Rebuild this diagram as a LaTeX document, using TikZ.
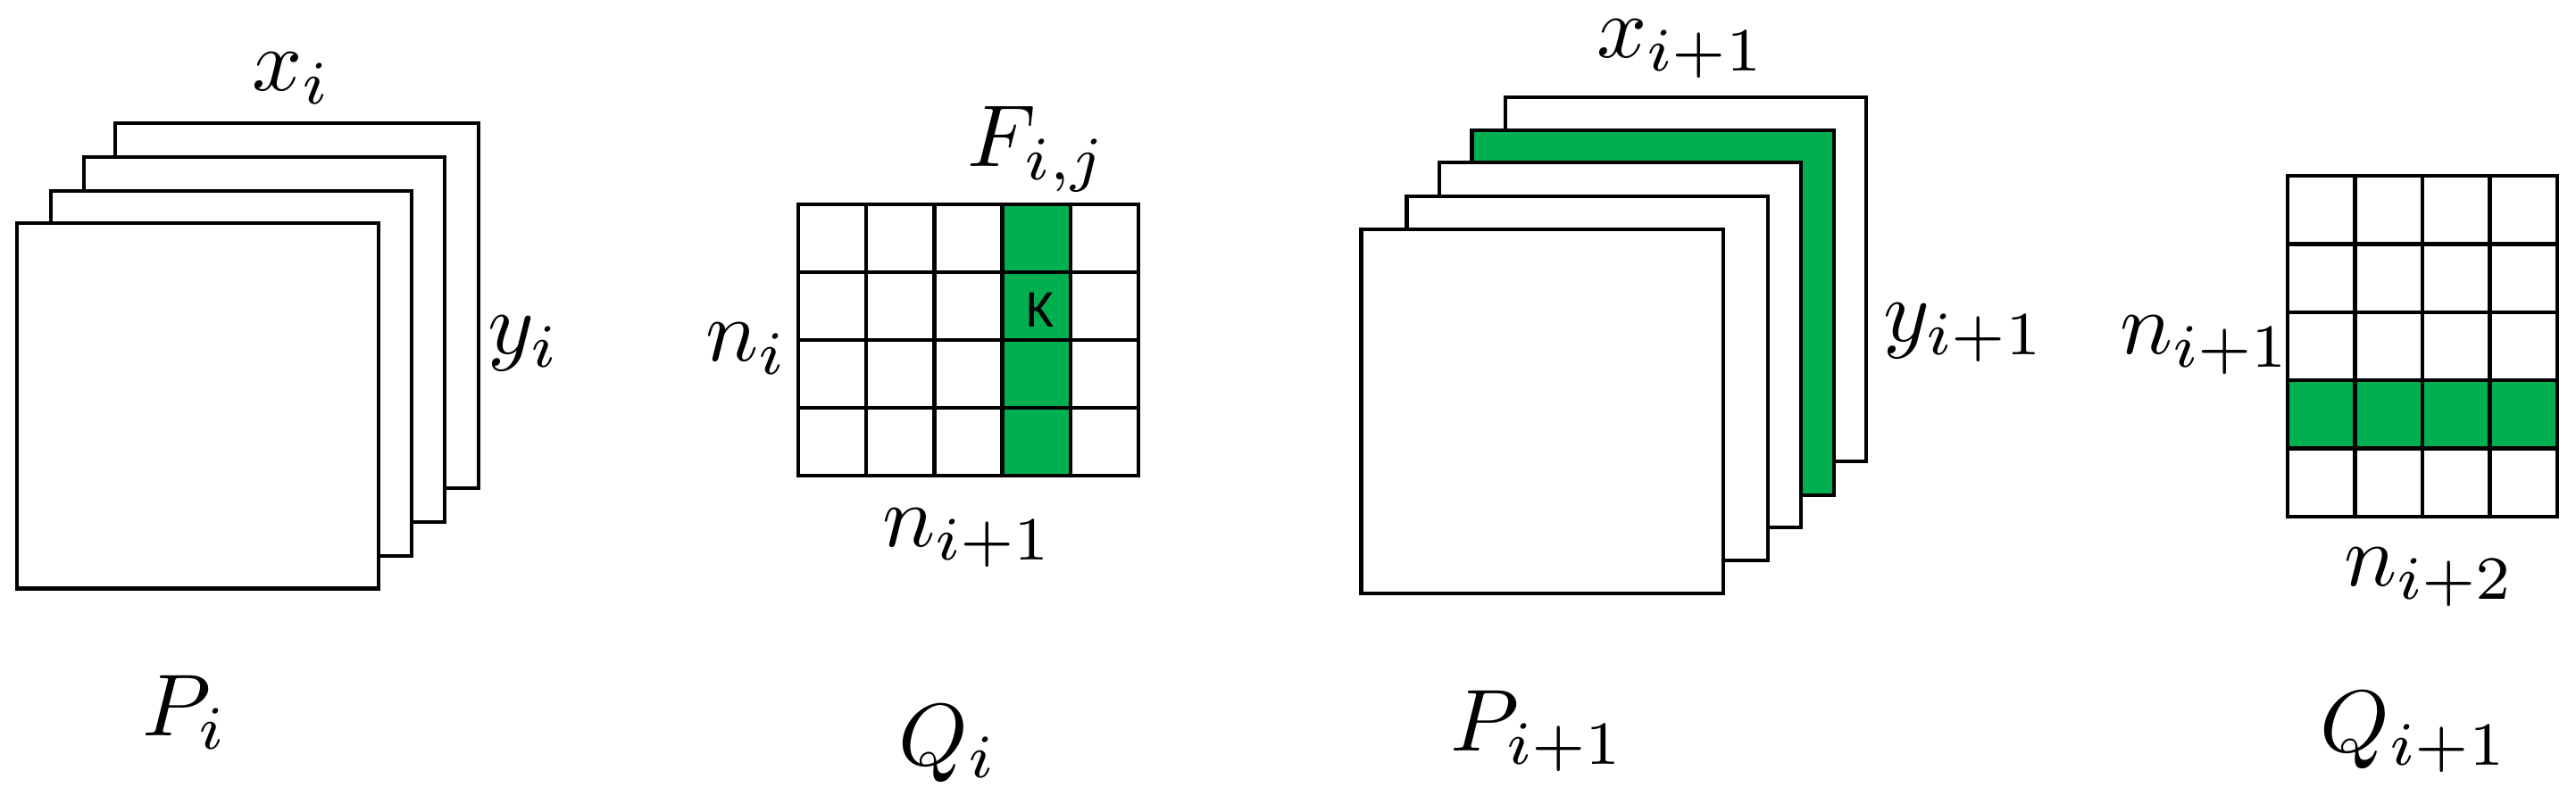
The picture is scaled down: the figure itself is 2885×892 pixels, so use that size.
\documentclass[tikz,border=0pt]{standalone}
\usepackage{graphicx}
\usepackage{fontspec}
\newfontfamily\carlito{Carlito}
\newcommand\lblmath[1]{\scalebox{2.8}{$#1$}}
\definecolor{officegreen}{RGB}{0,176,80}
\tikzset{
  sheet/.style={draw=black, fill=white, line width=0.045cm, line join=miter},
  greensheet/.style={draw=black, fill=officegreen, line width=0.045cm, line join=miter},
  gridline/.style={draw=black, line width=0.045cm, line cap=rect},
  greencell/.style={fill=officegreen, draw=none},
  lbl/.style={inner sep=0pt, anchor=base},
  klbl/.style={inner sep=0pt, font=\carlito\fontsize{17}{20}\selectfont}
}
\begin{document}
\begin{tikzpicture}[x=0.01cm, y=-0.01cm]
\path[fill=white, use as bounding box] (0,0) rectangle (2885,892);

% ---- P_i stack ----
\draw[sheet] (129,138) rectangle +(407,409);
\draw[sheet] (94,176) rectangle +(404,409);
\draw[sheet] (57,214) rectangle +(404,409);
\draw[sheet] (19,250) rectangle +(405,409.5);
\node[lbl] (xi) at (327,102) {\lblmath{x_i}};
\node[lbl] (yi) at (587,397) {\lblmath{y_i}};
\node[lbl] (Pi) at (207,825) {\lblmath{P_i}};

% ---- Q_i grid ----
\fill[greencell] (1123,229) rectangle (1199,533);
\foreach \c in {0,...,5} \draw[gridline] ({894+76.2*\c},229) -- ({894+76.2*\c},533);
\foreach \r in {0,...,4} \draw[gridline] (894,{229+76*\r}) -- (1275,{229+76*\r});
\node[klbl] (K) at (1165,347) {K};
\node[lbl] (Fij) at (1162,187) {\lblmath{F_{i,j}}};
\node[lbl] (ni) at (836,405) {\lblmath{n_i}};
\node[lbl] (nip1a) at (1084,613) {\lblmath{n_{i+1}}};
\node[lbl] (Qi) at (1062,857) {\lblmath{Q_i}};

% ---- P_{i+1} stack ----
\draw[sheet] (1686,109) rectangle (2090,517);
\draw[greensheet] (1648.5,146) rectangle (2054,555);
\draw[sheet] (1612,182) rectangle (2017,591);
\draw[sheet] (1575.5,220) rectangle (1980,628);
\draw[sheet] (1524.5,257) rectangle (1930,665);
\node[lbl] (xip1) at (1883,65) {\lblmath{x_{i+1}}};
\node[lbl] (yip1) at (2200,383) {\lblmath{y_{i+1}}};
\node[lbl] (Pip1) at (1722,842) {\lblmath{P_{i+1}}};

% ---- Q_{i+1} grid ----
\fill[greencell] (2562,426) rectangle (2864,502);
\foreach \c in {0,...,4} \draw[gridline] ({2562+75.5*\c},197) -- ({2562+75.5*\c},579);
\foreach \r in {0,...,5} \draw[gridline] (2562,{197+76.4*\r}) -- (2864,{197+76.4*\r});
\node[lbl] (nip1b) at (2470,397) {\lblmath{n_{i+1}}};
\node[lbl] (nip2) at (2721,657) {\lblmath{n_{i+2}}};
\node[lbl] (Qip1) at (2704,843) {\lblmath{Q_{i+1}}};
\end{tikzpicture}
\end{document}
